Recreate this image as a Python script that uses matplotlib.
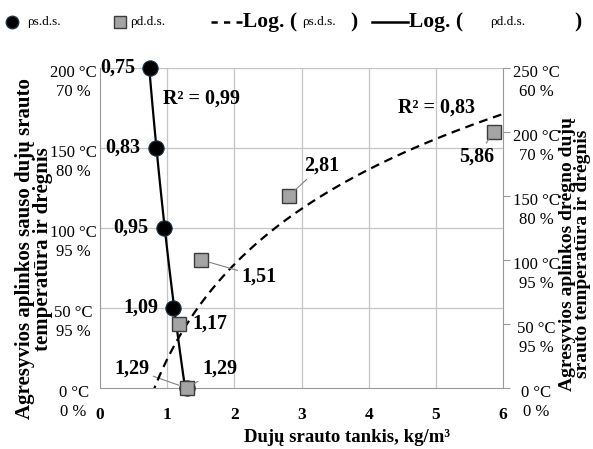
import numpy as np
import matplotlib
matplotlib.use('Agg')
import matplotlib.pyplot as plt
from matplotlib.lines import Line2D
from matplotlib.transforms import ScaledTranslation

plt.rcParams['font.family'] = ['Liberation Serif', 'DejaVu Serif']

# ---------------- data ----------------
# dry gas flow (circles, left axis)
sds_x = [0.75, 0.83, 0.95, 1.09, 1.29]
sds_y = [200, 150, 100, 50, 0]
sds_lbl = ['0,75', '0,83', '0,95', '1,09', '1,29']

# wet gas flow (squares, right axis)
dds_x = [1.29, 1.17, 1.51, 2.81, 5.86]
dds_y = [0, 50, 100, 150, 200]
dds_lbl = ['1,29', '1,17', '1,51', '2,81', '5,86']

left_ticks = [0, 50, 100, 150, 200]
left_tlbl = ['0 °C\n0 %', '50 °C\n95 %', '100 °C\n95 %', '150 °C\n80 %', '200 °C\n70 %']
right_ticks = [0, 50, 100, 150, 200, 250]
right_tlbl = ['0 °C\n0 %', '50 °C\n95 %', '100 °C\n95 %', '150 °C\n80 %', '200 °C\n70 %', '250 °C\n60 %']
x_ticks = [0, 1, 2, 3, 4, 5, 6]

W, H = 593, 449
fig = plt.figure(figsize=(W/100, H/100), dpi=100)
ax = fig.add_axes([100/W, 1-388/H, 403/W, 320/H])
ax2 = ax.twinx()

grid_c = '#c4c4c4'
spine_c = '#9a9a9a'

ax.set_xlim(0, 6)
ax.set_ylim(0, 200)
ax2.set_ylim(0, 250)

# grid
for xv in x_ticks[1:-1]:
    ax.axvline(xv, color=grid_c, lw=0.9, zorder=0)
for yv in left_ticks[1:]:
    ax.axhline(yv, color=grid_c, lw=0.9, zorder=0)

# log trend lines (fitted to the data)
a1, b1 = np.polyfit(np.log(sds_x), sds_y, 1)
xs1 = np.linspace(0.7, 1.35, 100)
ax.plot(xs1, a1*np.log(xs1)+b1, color='black', lw=1.6, zorder=2)
r2_1 = 1 - np.sum((np.array(sds_y) - (a1*np.log(sds_x)+b1))**2) / np.sum((np.array(sds_y)-np.mean(sds_y))**2)

a2, b2 = np.polyfit(np.log(dds_x), dds_y, 1)
xs2 = np.linspace(0.5, 6, 200)
ax2.plot(xs2, a2*np.log(xs2)+b2, color='black', lw=1.6, ls=(0, (4, 2.6)), zorder=2)
r2_2 = 1 - np.sum((np.array(dds_y) - (a2*np.log(dds_x)+b2))**2) / np.sum((np.array(dds_y)-np.mean(dds_y))**2)

# markers
ax.plot(sds_x, sds_y, 'o', ms=11, mfc='black', mec='#1c3448', mew=0.8, clip_on=False, zorder=3)
ax2.plot(dds_x, dds_y, 's', ms=10.5, mfc='#a4a4a4', mec='#3c3c3c', mew=1.0, clip_on=False, zorder=3)

lab = dict(fontsize=14.5, fontweight='bold')
lead = dict(arrowstyle='-', color='#808080', lw=0.8, shrinkA=1, shrinkB=6)

# circle labels
for i in range(4):
    ax.annotate(sds_lbl[i], (sds_x[i], sds_y[i]), xytext=(-11, 0), textcoords='offset points',
                ha='right', va='center', **lab)
ax.annotate(sds_lbl[4], (sds_x[4], sds_y[4]), xytext=(-27, 14), textcoords='offset points',
            ha='right', va='center', arrowprops=lead, **lab)

# square labels
ax2.annotate(dds_lbl[0], (dds_x[0], dds_y[0]), xytext=(11, 14), textcoords='offset points',
             ha='left', va='center', arrowprops=lead, **lab)
ax2.annotate(dds_lbl[1], (dds_x[1], dds_y[1]), xytext=(10, 0), textcoords='offset points',
             ha='left', va='center', **lab)
ax2.annotate(dds_lbl[2], (dds_x[2], dds_y[2]), xytext=(29, -12), textcoords='offset points',
             ha='left', va='center', arrowprops=lead, **lab)
ax2.annotate(dds_lbl[3], (dds_x[3], dds_y[3]), xytext=(11, 22), textcoords='offset points',
             ha='left', va='center', arrowprops=lead, **lab)
ax2.annotate(dds_lbl[4], (dds_x[4], dds_y[4]), xytext=(-12, -18), textcoords='offset points',
             ha='center', va='center', arrowprops=lead, **lab)

# R^2
ax.text(0.94, 181, 'R² = ' + ('%.2f' % r2_1).replace('.', ','), ha='left', va='center', **lab)
ax.text(4.43, 175.5, 'R² = ' + ('%.2f' % r2_2).replace('.', ','), ha='left', va='center', **lab)

# spines / ticks
for s in ['top', 'right']:
    ax.spines[s].set_visible(False)
for s in ['top', 'left', 'bottom']:
    ax2.spines[s].set_visible(False)
for s in ['left', 'bottom']:
    ax.spines[s].set_color(spine_c)
ax2.spines['right'].set_color(spine_c)

ax.set_xticks(x_ticks)
ax.set_xticklabels([str(v) for v in x_ticks], fontsize=12.5, fontweight='bold')
ax.tick_params(axis='x', length=0, pad=14)
ax.set_yticks(left_ticks)
ax.set_yticklabels(left_tlbl, fontsize=12, linespacing=1.25, ha='center')
ax.tick_params(axis='y', length=0, pad=19)
ax2.set_yticks(right_ticks)
ax2.set_yticklabels(right_tlbl, fontsize=12, linespacing=1.25, ha='center')
ax2.tick_params(axis='y', length=5, color=spine_c, pad=19)

shift = ScaledTranslation(0, -7.8/72, fig.dpi_scale_trans)
for lbl in ax.get_yticklabels() + ax2.get_yticklabels():
    lbl.set_multialignment('center')
    lbl.set_transform(lbl.get_transform() + shift)

# axis titles
fig.text(347/W, 1-437/H, 'Dujų srauto tankis, kg/m³', ha='center', va='center',
         fontsize=13.5, fontweight='bold')
fig.text(34/W, 1-249/H, 'Agresyvios aplinkos sauso dujų srauto\ntemperatūra ir drėgnis',
         rotation=90, ha='center', va='center', multialignment='center',
         fontsize=15, fontweight='bold', linespacing=0.92)
fig.text(575/W, 1-254/H, 'Agresyvios aplinkos drėgno dujų\nsrauto temperatūra ir drėgnis',
         rotation=90, ha='center', va='center', multialignment='center',
         fontsize=14, fontweight='bold', linespacing=0.82)

# legend (top)
ly = 1 - 22/H
fig.add_artist(Line2D([12/W], [ly], marker='o', ms=9, mfc='black', mec='#1c3448', ls='none',
                      transform=fig.transFigure))
fig.text(27/W, ly, 'ρs.d.s.', ha='left', va='center', fontsize=9.5)
fig.add_artist(Line2D([120/W], [ly], marker='s', ms=8.5, mfc='#a4a4a4', mec='#3c3c3c', ls='none',
                      transform=fig.transFigure))
fig.text(130/W, ly, 'ρd.d.s.', ha='left', va='center', fontsize=9.5)
fig.add_artist(Line2D([211/W, 242/W], [ly, ly], color='black', lw=1.8, ls=(0, (2.5, 2.5)),
                      transform=fig.transFigure))
fig.text(243/W, ly, 'Log. (', ha='left', va='center', fontsize=15.5, fontweight='bold')
fig.text(302/W, ly, 'ρs.d.s.', ha='left', va='center', fontsize=9.5)
fig.text(350/W, ly, ')', ha='left', va='center', fontsize=15.5, fontweight='bold')
fig.add_artist(Line2D([372/W, 408/W], [ly, ly], color='black', lw=1.8,
                      transform=fig.transFigure))
fig.text(409/W, ly, 'Log. (', ha='left', va='center', fontsize=15.5, fontweight='bold')
fig.text(490/W, ly, 'ρd.d.s.', ha='left', va='center', fontsize=9.5)
fig.text(574/W, ly, ')', ha='left', va='center', fontsize=15.5, fontweight='bold')

fig.savefig('out.png', dpi=100)
